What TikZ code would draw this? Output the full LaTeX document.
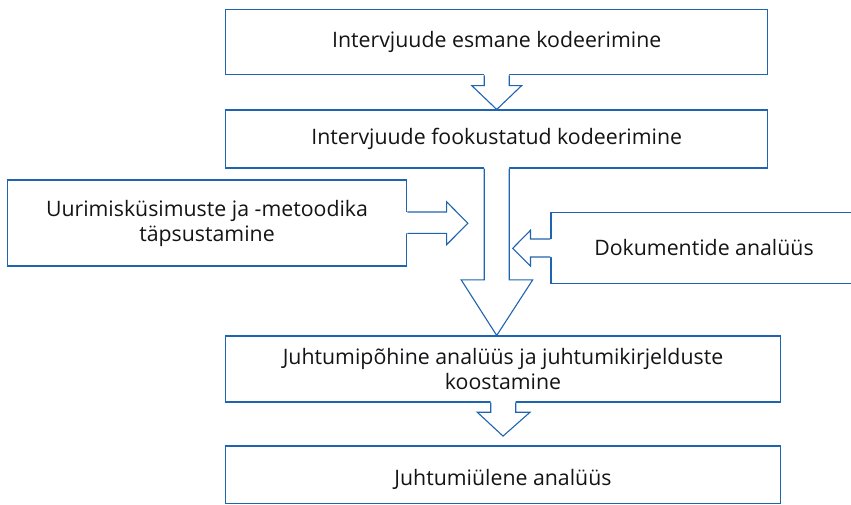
\documentclass[tikz,border=0pt]{standalone}
\usepackage{fontspec}
\setmainfont{Open Sans}
\usetikzlibrary{calc}
\definecolor{myblue}{RGB}{31,100,175}
\definecolor{mytext}{RGB}{20,20,20}
\tikzset{
  box/.style={draw=myblue, line width=1.1pt, fill=white, align=center, inner sep=0pt,
    text=mytext, font=\fontsize{21.3}{25}\selectfont},
  boxtext/.style={align=center, inner sep=0pt, text=mytext, font=\fontsize{21.3}{25}\selectfont},
  arrline/.style={draw=myblue, line width=1.1pt, line join=miter},
  arrfill/.style={fill=white}
}
\begin{document}
\begin{tikzpicture}[x=1pt,y=-1pt]
\useasboundingbox (0,0) rectangle (851,504);
\clip (0,0) rectangle (851,504);
% boxes
\node[box, minimum width=542pt, minimum height=65pt] (b1) at (496.7,42.3) {Intervjuude esmane kodeerimine};
\node[box, minimum width=542pt, minimum height=58pt] (b2) at (496.7,139) {Intervjuude fookustatud kodeerimine};
\node[box, minimum width=399.4pt, minimum height=86pt] (b3) at (207,223) {Uurimisküsimuste ja -metoodika\\täpsustamine};
\node[box, minimum width=306pt, minimum height=71pt] (b4) at (704,248) {Dokumentide analüüs};
\node[box, minimum width=554.6pt, minimum height=66pt] (b5) at (503,369) {Juhtumipõhine analüüs ja juhtumikirjelduste\\koostamine};
\node[box, minimum width=554.6pt, minimum height=57.3pt] (b6) at (503,474.6) {};
\node[boxtext] (b6t) at ($(b6.center)+(0,4.5)$) {Juhtumiülene analüüs};

% arrow b1 -> b2
\fill[arrfill] ($(b1.south)+(-12.5,-1.5)$) -- ($(b1.south)+(-12.5,10.2)$) -- ($(b1.south)+(-25,10.2)$)
  -- (b2.north) -- ($(b1.south)+(25,10.2)$) -- ($(b1.south)+(12.5,10.2)$) -- ($(b1.south)+(12.5,-1.5)$) -- cycle;
\draw[arrline] (b1.south) ++(-12.5,0) -- ++(0,10.2) -- ++(-12.5,0) -- (b2.north)
  -- ($(b1.south)+(25,10.2)$) -- ++(-12.5,0) -- ++(0,-10.2);

% arrow b2 -> b5 (big)
\coordinate (t25) at (b2.south |- b5.north);
\fill[arrfill] ($(b2.south)+(-12.5,-1.5)$) -- ($(b2.south)+(-12.5,111.3)$) -- ($(b2.south)+(-35.5,111.3)$)
  -- (t25) -- ($(b2.south)+(36,111.3)$) -- ($(b2.south)+(12.5,111.3)$) -- ($(b2.south)+(12.5,-1.5)$) -- cycle;
\draw[arrline] (b2.south) ++(-12.5,0) -- ++(0,111.3) -- ++(-23,0) -- (t25)
  -- ($(b2.south)+(36,111.3)$) -- ++(-23.5,0) -- ++(0,-111.3);

% arrow b5 -> b6
\coordinate (t56) at ($(b6.north)+(0,-9.3)$);
\fill[arrfill] ($(b5.south)+(-12.3,-1.5)$) -- ($(b5.south)+(-12.3,9.7)$) -- ($(b5.south)+(-25.7,9.7)$)
  -- (t56) -- ($(b5.south)+(27,9.7)$) -- ($(b5.south)+(12.7,9.7)$) -- ($(b5.south)+(12.7,-1.5)$) -- cycle;
\draw[arrline] (b5.south) ++(-12.3,0) -- ++(0,9.7) -- ++(-13.4,0) -- (t56)
  -- ($(b5.south)+(27,9.7)$) -- ++(-14.3,0) -- ++(0,-9.7);

% arrow b3 -> right
\coordinate (t3) at ($(b3.east)+(60.6,0.3)$);
\fill[arrfill] ($(b3.east)+(-1.5,-11)$) -- ($(b3.east)+(39.3,-11)$) -- ($(b3.east)+(39.3,-21.3)$)
  -- (t3) -- ($(b3.east)+(39.3,21.7)$) -- ($(b3.east)+(39.3,10.3)$) -- ($(b3.east)+(-1.5,10.3)$) -- cycle;
\draw[arrline] ($(b3.east)+(0,-11)$) -- ++(39.3,0) -- ++(0,-10.3) -- (t3)
  -- ($(b3.east)+(39.3,21.7)$) -- ++(0,-11.4) -- ++(-39.3,0);

% arrow b4 -> left
\coordinate (t4) at ($(b4.west)+(-37.7,0.3)$);
\fill[arrfill] ($(b4.west)+(1.5,-9)$) -- ($(b4.west)+(-20,-9)$) -- ($(b4.west)+(-20,-17.7)$)
  -- (t4) -- ($(b4.west)+(-20,18)$) -- ($(b4.west)+(-20,9)$) -- ($(b4.west)+(1.5,9)$) -- cycle;
\draw[arrline] ($(b4.west)+(0,-9)$) -- ++(-20,0) -- ++(0,-8.7) -- (t4)
  -- ($(b4.west)+(-20,18)$) -- ++(0,-9) -- ++(20,0);
\end{tikzpicture}
\end{document}
